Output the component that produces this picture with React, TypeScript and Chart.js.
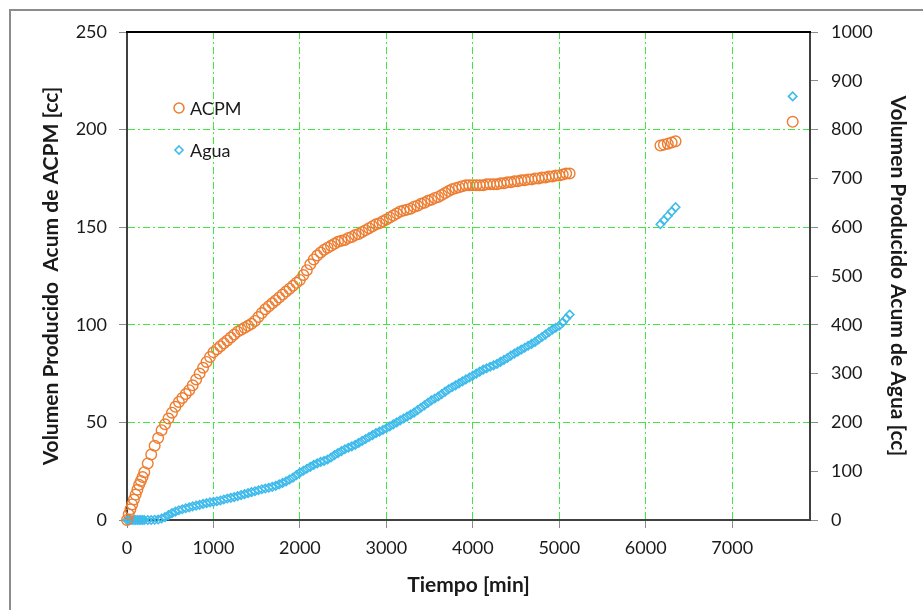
import React, { useEffect, useRef } from "react";
import { Chart, registerables } from "chart.js";

Chart.register(...registerables);

// Time in minutes for the continuous record
const timeMain: number[] = [
  0, 20, 40, 60, 80, 100, 120, 140, 160, 180, 200,
  240, 280, 320, 360, 400, 440, 480, 520, 560, 600, 640, 680, 720, 760, 800, 840, 880, 920, 960, 1000,
  1040, 1080, 1120, 1160, 1200, 1240, 1280, 1320, 1360, 1400, 1440, 1480, 1520, 1560, 1600, 1640, 1680, 1720, 1760, 1800, 1840, 1880, 1920, 1960, 2000,
  2040, 2080, 2120, 2160, 2200, 2240, 2280, 2320, 2360, 2400, 2440, 2480, 2520, 2560, 2600, 2640, 2680, 2720, 2760, 2800, 2840, 2880, 2920, 2960, 3000,
  3040, 3080, 3120, 3160, 3200, 3240, 3280, 3320, 3360, 3400, 3440, 3480, 3520, 3560, 3600, 3640, 3680, 3720, 3760, 3800, 3840, 3880, 3920, 3960, 4000,
  4040, 4080, 4120, 4160, 4200, 4240, 4280, 4320, 4360, 4400, 4440, 4480, 4520, 4560, 4600, 4640, 4680, 4720, 4760, 4800, 4840, 4880, 4920, 4960, 5000,
  5040, 5080, 5120,
];

// Cumulative ACPM volume [cc] (left axis)
const acpmMain: number[] = [
  0, 3, 5.5, 8, 10.5, 13, 15.5, 18, 20, 22, 24.5,
  29, 33.5, 38, 42, 46, 49, 52, 55, 58, 60.5, 62.5, 64.5, 66.5, 69, 72, 75, 78, 81, 83.5, 86,
  87.5, 89, 90.5, 92, 93.5, 95, 96.5, 97.5, 98.5, 99.5, 100.5, 102, 104, 106, 108, 109.5, 111, 112.5, 114, 115.5, 117, 118.5, 120, 121.5, 123,
  125.5, 128, 131, 133.5, 135.5, 137, 138.5, 139.5, 140.5, 141.5, 142.5, 143, 143.5, 144.5, 145, 146, 146.5, 147.5, 148.5, 149.5, 150.5, 151.5, 152, 153, 154,
  155, 156, 157, 158, 158.5, 159, 159.5, 160.5, 161, 162, 162.5, 163.5, 164, 165, 165.5, 166.5, 167.5, 168.5, 169.5, 170, 170.5, 171, 171.5, 171.5, 171.5,
  171.5, 171.5, 171.5, 172, 172, 172, 172, 172.5, 172.5, 173, 173, 173.5, 173.5, 174, 174, 174.5, 174.5, 175, 175, 175.5, 175.5, 176, 176, 176.5, 176.5,
  177, 177.5, 177.5,
];

// Cumulative water volume [cc] (right axis)
const aguaMain: number[] = [
  0, 0, 0, 0, 0, 0, 0, 0, 0, 0, 0,
  0, 0, 0.5, 1, 3, 6, 10, 14, 17, 20, 22, 24, 26, 28, 29.5, 31, 33, 34.5, 36, 37,
  38.5, 40, 42, 44, 45.5, 47, 49, 51, 53, 55, 57, 59, 61, 63, 64.5, 66, 68, 70, 73, 76, 79, 83, 87, 92, 97,
  101, 105, 109, 113, 116, 119, 121, 124, 128, 133, 137, 141, 145, 148, 151, 154, 158, 162, 166, 170, 174, 178, 181, 184.5, 188,
  192, 196, 200, 204, 208, 212, 216, 220, 225, 230, 235, 240, 245, 249, 253, 258, 263, 268, 272, 276, 280, 284, 288, 292, 296,
  300, 304, 308, 311, 314, 317, 320, 324, 328, 332, 337, 341, 345, 349, 353, 357, 361, 365, 370, 375, 380, 385, 390, 394, 398,
  405, 413, 421,
];

// Later isolated readings
const timeLate: number[] = [6170, 6210, 6255, 6300, 6345, 7700];
const acpmLate: number[] = [191.8, 192.3, 192.8, 193.4, 194, 204];
const aguaLate: number[] = [606, 614, 623, 632, 641, 868];

// Axis ticks
const xTicks: number[] = [0, 1000, 2000, 3000, 4000, 5000, 6000, 7000];
const xMax = 7900;
const yLeftTicks: number[] = [0, 50, 100, 150, 200, 250];
const yRightTicks: number[] = [0, 100, 200, 300, 400, 500, 600, 700, 800, 900, 1000];

const xTitle = "Tiempo [min]";
const yLeftTitle = "Volumen Producido  Acum de ACPM [cc]";
const yRightTitle = "Volumen Producido Acum de Agua [cc]";
const seriesNames = ["ACPM", "Agua"];

const ORANGE = "#ED7D31";
const BLUE = "#3FBBEC";
const GRID = "#3ee83e";
const AXIS = "#404040";
const TICKMARK = "#8c8c8c";
const TEXT = "#1a1a1a";
const FONT = "Lato";

const setTicks = (values: number[]) => (s: any) => {
  s.ticks = values.map((v) => ({ value: v }));
};

export default function App() {
  const ref = useRef<HTMLCanvasElement | null>(null);

  useEffect(() => {
    if (!ref.current) return;
    const times = timeMain.concat(timeLate);
    const acpm = acpmMain.concat(acpmLate);
    const agua = aguaMain.concat(aguaLate);

    const overlay = {
      id: "overlay",
      afterDraw(chart: any) {
        const { ctx, chartArea } = chart;
        ctx.save();
        // top frame line
        ctx.strokeStyle = "#000";
        ctx.lineWidth = 2;
        ctx.beginPath();
        ctx.moveTo(chartArea.left - 1, chartArea.top);
        ctx.lineTo(chartArea.right + 1, chartArea.top);
        ctx.stroke();

        // legend inside plot
        const lx = chartArea.left + 52;
        const ly1 = chartArea.top + 76;
        const ly2 = chartArea.top + 118;
        ctx.lineWidth = 1.5;
        ctx.strokeStyle = ORANGE;
        ctx.beginPath();
        ctx.arc(lx, ly1, 5, 0, Math.PI * 2);
        ctx.stroke();
        ctx.strokeStyle = BLUE;
        ctx.lineWidth = 1.6;
        ctx.beginPath();
        ctx.moveTo(lx, ly2 - 4);
        ctx.lineTo(lx + 4, ly2);
        ctx.lineTo(lx, ly2 + 4);
        ctx.lineTo(lx - 4, ly2);
        ctx.closePath();
        ctx.stroke();
        ctx.fillStyle = TEXT;
        ctx.font = `18px ${FONT}`;
        ctx.textBaseline = "middle";
        ctx.textAlign = "left";
        ctx.fillText(seriesNames[0], lx + 11, ly1 + 1);
        ctx.fillText(seriesNames[1], lx + 11, ly2 + 1);
        ctx.restore();
      },
    };

    const chart = new Chart(ref.current, {
      type: "scatter",
      data: {
        datasets: [
          {
            label: seriesNames[0],
            data: times.map((t, i) => ({ x: t, y: acpm[i] })),
            yAxisID: "y",
            pointStyle: "circle",
            pointRadius: 5.3,
            pointBorderWidth: 1.4,
            borderColor: ORANGE,
            backgroundColor: "rgba(0,0,0,0)",
            showLine: false,
            clip: false,
          } as any,
          {
            label: seriesNames[1],
            data: times.map((t, i) => ({ x: t, y: agua[i] })),
            yAxisID: "y1",
            pointStyle: "rectRot",
            pointRadius: 4.2,
            pointBorderWidth: 1.6,
            borderColor: BLUE,
            backgroundColor: "rgba(0,0,0,0)",
            showLine: false,
            clip: false,
          } as any,
        ],
      },
      options: {
        responsive: false,
        animation: false,
        devicePixelRatio: 1,
        events: [],
        layout: { padding: { top: 32, left: 0, right: 0, bottom: 0 } },
        plugins: {
          legend: { display: false },
          tooltip: { enabled: false },
        },
        scales: {
          x: {
            type: "linear",
            position: "bottom",
            min: 0,
            max: xMax,
            afterBuildTicks: setTicks(xTicks),
            afterFit: (s: any) => {
              s.height = 90;
            },
            ticks: {
              color: TEXT,
              font: { family: FONT, size: 18 },
              padding: 9,
              maxRotation: 0,
              autoSkip: false,
              callback: (v: any) => String(v),
            },
            grid: {
              color: (c: any) => (c.tick && c.tick.value === 0 ? "rgba(0,0,0,0)" : GRID),
              lineWidth: 1,
              tickColor: TICKMARK,
              tickLength: 8,
              tickWidth: 1,
              tickBorderDash: [],
            },
            border: { display: true, color: AXIS, width: 2, dash: [7, 3, 2, 3] },
            title: {
              display: true,
              text: xTitle,
              color: TEXT,
              font: { family: FONT, size: 21, weight: "bold" },
              padding: { top: 0, bottom: 12 },
            },
          },
          y: {
            type: "linear",
            position: "left",
            min: 0,
            max: 250,
            afterBuildTicks: setTicks(yLeftTicks),
            afterFit: (s: any) => {
              s.width = 127;
            },
            ticks: {
              color: TEXT,
              font: { family: FONT, size: 18 },
              padding: 12,
              autoSkip: false,
              callback: (v: any) => String(v),
            },
            grid: {
              color: (c: any) =>
                c.tick && (c.tick.value === 0 || c.tick.value === 250) ? "rgba(0,0,0,0)" : GRID,
              lineWidth: 1,
              tickColor: TICKMARK,
              tickLength: 8,
              tickWidth: 1,
              tickBorderDash: [],
            },
            border: { display: true, color: AXIS, width: 2, dash: [7, 3, 2, 3] },
            title: {
              display: true,
              text: yLeftTitle,
              color: TEXT,
              font: { family: FONT, size: 21, weight: "bold" },
              padding: { top: 39, bottom: 0 },
            },
          },
          y1: {
            type: "linear",
            position: "right",
            min: 0,
            max: 1000,
            afterBuildTicks: setTicks(yRightTicks),
            afterFit: (s: any) => {
              s.width = 113;
            },
            ticks: {
              color: TEXT,
              font: { family: FONT, size: 18 },
              padding: 13,
              autoSkip: false,
              callback: (v: any) => String(v),
            },
            grid: {
              drawOnChartArea: false,
              tickColor: TICKMARK,
              tickLength: 8,
              tickWidth: 1,
            },
            border: { display: true, color: AXIS, width: 2 },
            title: {
              display: true,
              text: yRightTitle,
              color: TEXT,
              font: { family: FONT, size: 21, weight: "bold" },
              padding: { top: 13, bottom: 0 },
            },
          },
        },
      } as any,
      plugins: [overlay],
    });

    return () => chart.destroy();
  }, []);

  return (
    <div
      style={{
        position: "absolute",
        left: 0,
        top: 0,
        width: 923,
        height: 610,
        overflow: "hidden",
        background: "#fff",
      }}
    >
      <canvas ref={ref} width={923} height={610} style={{ display: "block", position: "absolute", left: 0, top: 0 }} />
      <div
        style={{
          position: "absolute",
          left: 9,
          top: 9,
          width: 960,
          height: 660,
          border: "2px solid #8c8c8c",
          boxSizing: "border-box",
          pointerEvents: "none",
        }}
      />
    </div>
  );
}
